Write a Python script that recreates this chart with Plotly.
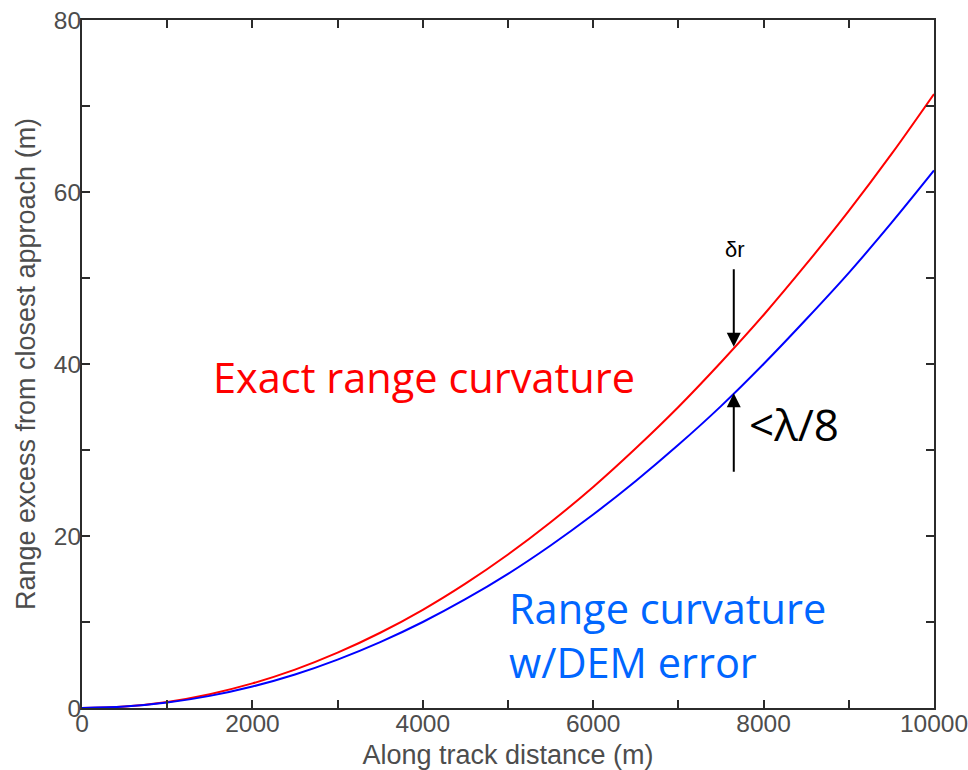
import plotly.graph_objects as go

# Along-track distance (m)
along_track = [0, 500, 1000, 1500, 2000, 2500, 3000, 3500, 4000, 4500, 5000,
               5500, 6000, 6500, 7000, 7500, 8000, 8500, 9000, 9500, 10000]
# Range excess, exact curvature (m)
exact_range = [0, 0.18, 0.71, 1.61, 2.86, 4.46, 6.43, 8.75, 11.42, 14.46, 17.85,
               21.6, 25.7, 30.2, 35.0, 40.2, 45.7, 51.6, 57.8, 64.4, 71.4]
# Range excess with DEM error (m)
dem_range = [0, 0.16, 0.63, 1.41, 2.5, 3.9, 5.63, 7.66, 10.0, 12.65, 15.6,
             18.9, 22.5, 26.4, 30.6, 35.1, 40.0, 45.2, 50.6, 56.4, 62.5]

x_ticks = list(range(0, 10001, 1000))
x_ticktext = [str(v) if v % 2000 == 0 else "" for v in x_ticks]
y_ticks = list(range(0, 81, 10))
y_ticktext = [str(v) if v % 20 == 0 else "" for v in y_ticks]

fig = go.Figure()
fig.add_trace(go.Scatter(x=along_track, y=exact_range, mode="lines",
                         line=dict(color="#ff0000", width=2, shape="spline"),
                         showlegend=False))
fig.add_trace(go.Scatter(x=along_track, y=dem_range, mode="lines",
                         line=dict(color="#0000ff", width=2, shape="spline"),
                         showlegend=False))

axis_common = dict(showline=True, linecolor="#2b2b2b", linewidth=2, mirror="ticks",
                   ticks="inside", ticklen=8, tickwidth=2, tickcolor="#2b2b2b",
                   showgrid=False, zeroline=False, automargin=False,
                   ticklabeloverflow="allow",
                   tickfont=dict(family="Liberation Sans, Arial", size=24.5, color="#4d4d4d"))

fig.update_xaxes(range=[0, 10000], tickvals=x_ticks, ticktext=x_ticktext,
                 ticklabelstandoff=-7,
                 title=dict(text="Along track distance (m)", standoff=10,
                            font=dict(family="Liberation Sans, Arial", size=27, color="#4d4d4d")),
                 **axis_common)
fig.update_yaxes(range=[0, 80], tickvals=y_ticks, ticktext=y_ticktext,
                 ticklabelstandoff=-6,
                 title=dict(text="Range excess from closest approach (m)", standoff=10,
                            font=dict(family="Liberation Sans, Arial", size=27, color="#4d4d4d")),
                 **axis_common)

# Text labels
fig.add_annotation(x=4010, y=38.5, text="Exact range curvature", showarrow=False,
                   font=dict(family="Open Sans", size=41.5, color="#ff0000"))
fig.add_annotation(x=4990, y=8.5, text="Range curvature<br>w/DEM error", showarrow=False,
                   xanchor="left", align="left",
                   font=dict(family="Open Sans", size=41.5, color="#0066ff"))
fig.add_annotation(x=7800, y=33.0, text="<λ/8", showarrow=False, xanchor="left",
                   font=dict(family="Open Sans", size=44, color="#000000"))
fig.add_annotation(x=7660, y=53.3, text="δr", showarrow=False,
                   font=dict(family="Liberation Sans", size=22, color="#000000"))

# Arrows
fig.add_annotation(x=7650, y=42.0, ax=7650, ay=51.2, axref="x", ayref="y",
                   text="", showarrow=True, arrowhead=2, arrowsize=1.4, arrowwidth=2,
                   arrowcolor="#000000")
fig.add_annotation(x=7650, y=36.6, ax=7650, ay=27.3, axref="x", ayref="y",
                   text="", showarrow=True, arrowhead=2, arrowsize=1.4, arrowwidth=2,
                   arrowcolor="#000000")

fig.update_layout(width=968, height=770, plot_bgcolor="white", paper_bgcolor="white",
                  margin=dict(l=82, r=34, t=20, b=62))

fig.write_html("out.html", config={"displayModeBar": False},
               post_script="document.body.style.margin='0';")
